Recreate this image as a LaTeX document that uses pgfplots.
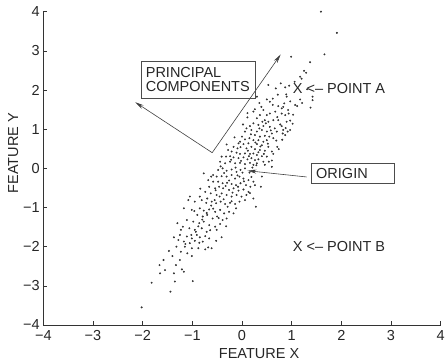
\documentclass[border=0pt]{standalone}
\usepackage{fontspec}
\setmainfont{Liberation Sans}
\usepackage{pgfplots}
\pgfplotsset{compat=1.18}
\usepackage{pgfplotstable}
\usetikzlibrary{arrows.meta}
\newcommand{\fs}{\fontsize{14.5}{16}\selectfont}
\pgfplotstableread{
x y
1.59 4.00
1.91 3.46
1.66 2.91
0.99 2.85
1.37 2.71
1.25 2.49
1.29 2.44
1.17 2.34
1.20 2.29
0.53 2.13
0.68 2.04
0.87 2.07
0.95 2.11
0.89 1.89
0.90 1.83
1.17 1.76
1.42 1.83
1.42 1.74
1.07 1.62
1.11 1.59
1.38 1.55
0.30 1.83
0.50 1.76
0.62 1.78
0.56 1.70
0.26 1.51
0.23 1.45
0.43 1.49
0.73 1.59
0.80 1.53
0.83 1.57
0.93 1.49
0.94 1.40
0.87 1.36
0.80 1.40
0.56 1.40
0.50 1.36
0.36 1.36
0.11 1.30
0.30 1.28
0.46 1.23
0.53 1.19
0.63 1.23
0.73 1.23
0.90 1.19
0.97 1.22
0.23 1.15
0.33 1.11
0.43 1.08
0.56 1.06
0.66 1.02
0.80 1.08
0.83 0.98
0.97 0.98
0.92 0.94
0.82 0.89
0.87 0.85
0.09 1.02
0.19 0.98
0.06 0.94
0.30 0.94
0.40 0.98
0.50 0.94
0.60 0.89
0.70 0.94
0.26 0.85
0.36 0.81
0.46 0.83
0.55 0.81
0.63 0.77
0.00 0.81
0.06 0.74
0.15 0.77
0.23 0.72
0.33 0.72
0.43 0.68
0.50 0.72
-0.07 0.64
0.03 0.62
0.13 0.64
0.30 0.62
0.40 0.59
0.53 0.55
0.74 0.49
-0.17 0.55
-0.09 0.51
-0.03 0.54
0.09 0.51
0.19 0.55
0.26 0.49
0.36 0.47
0.46 0.45
0.60 0.43
-0.28 0.47
-0.21 0.43
-0.11 0.40
-0.04 0.37
0.06 0.38
0.16 0.37
0.23 0.38
0.30 0.34
0.40 0.31
0.50 0.30
0.63 0.37
-0.41 0.30
-0.32 0.30
-0.24 0.31
-0.17 0.28
-0.07 0.26
0.03 0.28
0.11 0.23
0.19 0.26
0.26 0.21
0.33 0.23
0.43 0.17
0.60 0.20
-0.44 0.17
-0.34 0.13
-0.24 0.17
-0.14 0.13
-0.04 0.14
0.06 0.11
0.16 0.14
0.23 0.09
0.30 0.13
0.46 0.09
0.60 0.04
-0.48 -0.04
-0.39 0.00
-0.31 -0.06
-0.21 -0.03
-0.11 -0.09
-0.03 -0.04
0.06 0.00
0.15 -0.11
0.24 -0.06
0.40 -0.21
-0.77 -0.13
-0.58 -0.17
-0.51 -0.21
-0.41 -0.20
-0.31 -0.21
-0.21 -0.17
-0.14 -0.26
-0.05 -0.21
0.03 -0.26
0.13 -0.30
0.23 -0.34
-0.68 -0.30
-0.58 -0.34
-0.48 -0.34
-0.39 -0.38
-0.30 -0.37
-0.21 -0.40
-0.12 -0.43
-0.03 -0.38
0.08 -0.43
0.17 -0.47
0.26 -0.43
-0.66 -0.47
-0.54 -0.51
-0.46 -0.47
-0.38 -0.51
-0.26 -0.55
-0.17 -0.51
-0.07 -0.57
0.03 -0.54
0.13 -0.60
-0.74 -0.60
-0.63 -0.64
-0.51 -0.68
-0.41 -0.64
-0.31 -0.68
-0.21 -0.72
-0.11 -0.68
-0.01 -0.72
0.09 -0.68
0.23 -0.77
-0.85 -0.72
-0.70 -0.77
-1.05 -0.72
-1.08 -0.81
-0.95 -0.85
-0.81 -0.81
-0.72 -0.88
-0.61 -0.85
-0.52 -0.89
-0.43 -0.85
-0.34 -0.91
-0.24 -0.88
-0.14 -0.91
-0.05 -0.85
0.06 -0.81
0.28 -0.98
-1.17 -1.02
-1.01 -1.06
-0.85 -1.02
-0.77 -1.08
-0.66 -1.05
-0.54 -1.11
-0.44 -1.06
-0.36 -1.15
-0.26 -1.11
-0.17 -1.15
-0.90 -1.19
-0.79 -1.23
-0.70 -1.19
-0.59 -1.28
-0.50 -1.23
-0.39 -1.32
-0.31 -1.28
-1.11 -1.32
-0.98 -1.36
-0.86 -1.40
-0.77 -1.36
-0.66 -1.45
-0.54 -1.49
-0.44 -1.42
-1.30 -1.40
-1.19 -1.49
-1.06 -1.53
-0.95 -1.57
-0.81 -1.53
-0.71 -1.62
-0.51 -1.57
-1.37 -1.76
-1.25 -1.70
-1.11 -1.74
-1.01 -1.79
-0.91 -1.70
-0.85 -1.76
-0.74 -1.73
-0.66 -1.79
-0.41 -1.76
-1.17 -1.87
-1.05 -1.91
-0.95 -1.85
-0.86 -1.90
-1.32 -2.00
-1.15 -2.00
-1.01 -2.04
-0.88 -2.04
-0.74 -2.07
-0.68 -2.02
-0.61 -2.04
-1.23 -2.13
-1.10 -2.17
-1.01 -2.24
-1.40 -2.24
-1.25 -2.34
-1.58 -2.34
-1.66 -2.47
-1.55 -2.60
-1.33 -2.47
-1.21 -2.58
-1.17 -2.64
-1.65 -2.68
-1.37 -2.68
-1.35 -2.89
-1.82 -2.92
-0.99 -2.88
-1.44 -3.15
-2.02 -3.55
0.12 0.45
0.27 0.66
-0.02 0.19
0.35 1.02
0.48 1.15
0.71 1.31
0.18 0.87
-0.13 0.02
-0.26 -0.31
-0.45 -0.72
-0.62 -0.95
-0.37 -0.79
-0.19 -0.62
0.01 -0.11
0.21 0.02
0.37 0.56
0.58 0.97
0.67 1.45
0.41 1.19
0.14 0.31
-0.09 -0.18
-0.33 -0.45
-0.55 -0.81
-0.80 -1.31
-0.93 -1.62
-0.58 -1.03
-0.29 -0.98
-0.08 -0.47
0.19 -0.22
0.33 0.41
0.52 0.63
0.77 1.12
0.85 1.66
0.62 1.62
0.39 1.57
0.16 1.08
-0.04 0.68
-0.22 0.22
-0.36 -0.12
-0.53 -0.56
-0.71 -1.14
-0.88 -1.48
-1.02 -1.70
-1.14 -1.93
-0.79 -1.87
-0.64 -1.58
-0.47 -1.27
-0.21 -0.84
0.04 -0.33
0.29 0.08
0.44 0.37
0.69 0.71
0.88 1.03
1.03 1.37
0.97 1.71
0.72 1.88
0.35 1.67
0.11 1.41
0.02 1.12
-0.15 0.79
-0.31 0.61
-0.43 0.05
-0.62 -0.21
-0.84 -0.52
-0.96 -1.09
-1.23 -1.57
-1.28 -1.83
-1.47 -2.11
-0.52 -1.85
-0.32 -1.48
-0.12 -1.02
0.16 -0.63
0.38 -0.47
0.54 0.17
0.71 0.55
0.81 0.73
1.02 1.14
1.21 1.67
1.31 2.02
1.06 2.21
0.78 2.17
}\pts
\begin{document}
\begin{tikzpicture}
\useasboundingbox (-43.3pt,-39pt) rectangle (401.7pt,325pt);
\begin{axis}[
  scale only axis, width=397.4pt, height=313.3pt,
  at={(0,0)}, anchor=south west,
  xmin=-4, xmax=4, ymin=-4, ymax=4,
  axis x line*=bottom, axis y line*=left,
  axis line style={black!80, line width=0.6pt},
  tick align=inside, major tick length=4pt,
  tick style={black!80, line width=0.6pt},
  xtick={-4,-3,-2,-1,0,1,2,3,4}, ytick={-4,-3,-2,-1,0,1,2,3,4},
  xticklabels={−4,−3,−2,−1,0,1,2,3,4},
  yticklabels={−4,−3,−2,−1,0,1,2,3,4},
  ticklabel style={font=\fs, text=black!85},
  xticklabel style={yshift=-2pt},
  xlabel={FEATURE X}, ylabel={FEATURE Y},
  label style={font=\fs, text=black!85},
  xlabel style={at={(axis description cs:0.543,-0.0926)}, anchor=center},
  ylabel style={at={(axis description cs:-0.0755,0.549)}, anchor=center},
  clip=false,
]
\addplot[only marks, mark=*, mark size=0.75pt, black!80] table[x=x,y=y] {\pts};
\draw[-{Stealth[length=9pt,width=4pt]}, black!75, line width=0.6pt] (axis cs:-0.60,0.40) -- (axis cs:0.78,2.91);
\draw[-{Stealth[length=9pt,width=4pt]}, black!75, line width=0.6pt] (axis cs:-0.60,0.40) -- (axis cs:-2.15,1.69);
\draw[-{Stealth[length=9pt,width=4pt]}, black!75, line width=0.6pt] (axis cs:1.30,-0.22) -- (axis cs:0.11,-0.06);
\draw[black!70, line width=0.8pt] (axis cs:-2.02,2.74) rectangle (axis cs:0.27,1.79);
\draw[black!70, line width=0.8pt] (axis cs:1.40,0.13) rectangle (axis cs:3.06,-0.38);
\node[anchor=base west, inner sep=0pt, font=\fs, text=black!85] at (axis cs:-1.94,2.32) {PRINCIPAL};
\node[anchor=base west, inner sep=0pt, font=\fs, text=black!85] at (axis cs:-1.94,1.95) {COMPONENTS};
\node[anchor=base west, inner sep=0pt, font=\fs, text=black!85] at (axis cs:1.49,-0.27) {ORIGIN};
\node[anchor=base west, inner sep=0pt, font=\fs, text=black!85] at (axis cs:1.02,1.90) {X <-- POINT A};
\node[anchor=base west, inner sep=0pt, font=\fs, text=black!85] at (axis cs:1.02,-2.13) {X <-- POINT B};
\end{axis}
\end{tikzpicture}
\end{document}
